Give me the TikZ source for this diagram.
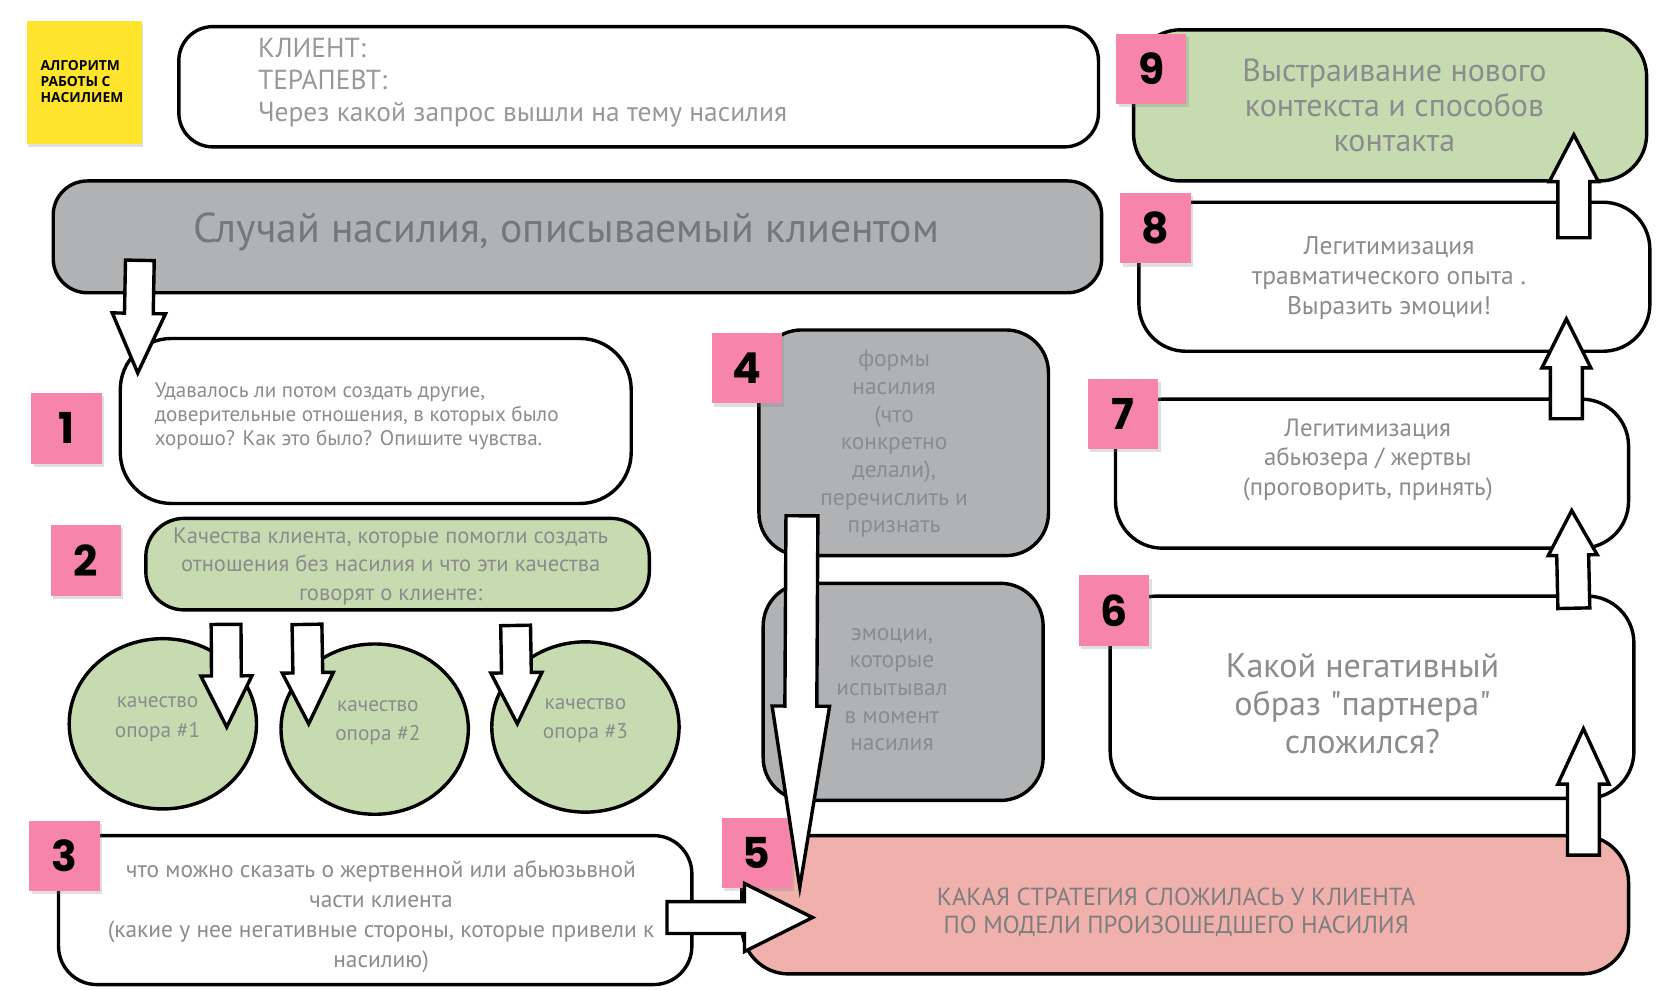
\documentclass[tikz,border=0pt]{standalone}
\usepackage{fontspec}
\setmainfont{PT Sans}
\newfontfamily\numf{Poppins}
\newfontfamily\headf{Open Sans}
\usetikzlibrary{calc,shadows,shapes.geometric}
\definecolor{pinkl}{RGB}{247,132,170}
\definecolor{greenf}{RGB}{198,219,176}
\definecolor{grayf}{RGB}{176,178,180}
\definecolor{salmonf}{RGB}{240,176,172}
\definecolor{yellf}{RGB}{255,228,46}
\definecolor{txtc}{RGB}{138,140,142}
\definecolor{txtl}{RGB}{150,152,155}
\newcommand\fs[2]{\fontsize{#1}{#2}\selectfont}
\newcommand\sq{\XeTeXglyph\XeTeXcharglyph"22\relax}
\newcommand\barrow[5]{%
  \path ($(#2)!#5!(#1)$) coordinate (hb);
  \draw[arrowst] ($(#1)!#3!90:(#2)$) -- ($(hb)!#3!90:(#2)$) -- ($(hb)!#4!90:(#2)$) -- (#2)
     -- ($(hb)!#4!-90:(#2)$) -- ($(hb)!#3!-90:(#2)$) -- ($(#1)!#3!-90:(#2)$) -- cycle;}
\tikzset{
  box/.style={draw=black, line width=1.6pt, rounded corners=#1, inner sep=0pt},
  box/.default=18pt,
  oval/.style={draw=black, line width=1.6pt, ellipse, fill=greenf, inner sep=0pt},
  txt/.style={text=txtc, align=center, inner sep=0pt},
  numlab/.style={fill=pinkl, minimum size=33pt, inner sep=0pt, text=black,
     font=\numf\bfseries\fs{20}{20},
     drop shadow={shadow xshift=1.2pt, shadow yshift=-1.5pt, opacity=0.25}},
  arrowst/.style={draw=black, fill=white, line width=1.6pt, line join=miter}
}
\begin{document}
\begin{tikzpicture}[x=0.5pt,y=-0.5pt]
\useasboundingbox (0,0) rectangle (1568,930);
\fill[white] (0,0) rectangle (1568,930);

% title square
\node[fill=yellf, minimum width=54pt, minimum height=57.5pt, inner sep=0pt,
   drop shadow={shadow xshift=0.8pt, shadow yshift=-1.5pt, opacity=0.25}] (yel) at (79,77.5) {};
\node[align=left, inner sep=0pt, font=\headf\bfseries\fs{6.5}{7.5}] (yelt) at (77,77)
   {АЛГОРИТМ\\РАБОТЫ С\\НАСИЛИЕМ};

% boxes
\node[box=16pt, fill=white, minimum width=432pt, minimum height=56.5pt] (top) at (600,81.5) {};
\node[txt, align=left, text=txtl, font=\fs{12.9}{15}, anchor=west] (toptxt) at (242,78)
   {КЛИЕНТ:\\ТЕРАПЕВТ:\\Через какой запрос вышли на тему насилия};

\node[box=16pt, fill=grayf, minimum width=492.5pt, minimum height=52.5pt] (grey) at (542.5,222.5) {};
\node[txt, text=txtc!85!black, font=\fs{19.6}{22}] (greyt) at (532,218) {Случай насилия, описываемый клиентом};

\node[box=24pt, fill=white, minimum width=240pt, minimum height=77.5pt] (b1) at (353,395.5) {};
\node[txt, align=left, font=\fs{9.9}{11.3}, anchor=west] (t1) at (145,391)
   {Удавалось ли потом создать другие,\\доверительные отношения, в которых было\\хорошо? Как это было? Опишите чувства.};

\node[box=18pt, fill=greenf, minimum width=236.5pt, minimum height=43pt] (b2) at (373.5,530) {};
\node[txt, font=\fs{10.6}{13.5}] (t2) at (367,532)
   {Качества клиента, которые помогли создать\\отношения без насилия и что эти качества\\говорят о клиенте:};

\node[oval, minimum width=88pt, minimum height=80pt] (c1) at (153,680) {};
\node[oval, minimum width=88pt, minimum height=80pt] (c2) at (352,685) {};
\node[oval, minimum width=88pt, minimum height=80pt] (c3) at (550,683) {};
\node[txt, font=\fs{10}{14}] (ct1) at (148,676) {качество\\опора \#1};
\node[txt, font=\fs{10}{14}] (ct2) at (355,679) {качество\\опора \#2};
\node[txt, font=\fs{10}{14}] (ct3) at (550,677) {качество\\опора \#3};

\node[box=18pt, fill=white, minimum width=297.5pt, minimum height=70pt] (b3) at (352.5,855) {};
\node[txt, font=\fs{11}{14}] (t3) at (358,861)
   {что можно сказать о жертвенной или абьюзьвной\\части клиента\\(какие у нее негативные стороны, которые привели к\\насилию)};

\node[box=20pt, fill=grayf, minimum width=136pt, minimum height=106pt] (b4a) at (849,416) {};
\node[txt, font=\fs{11}{13}] (t4a) at (840,417)
   {формы\\насилия\\(что\\конкретно\\делали),\\перечислить и\\признать};
\node[box=20pt, fill=grayf, minimum width=131.5pt, minimum height=102pt] (b4b) at (848.5,650) {};
\node[txt, font=\fs{11}{13}] (t4b) at (838,648)
   {эмоции,\\которые\\испытывал\\в момент\\насилия};

\node[box=22pt, fill=salmonf, minimum width=416.5pt, minimum height=65pt] (b5) at (1113.5,850) {};
\node[txt, text=txtc!90!black, font=\fs{11.6}{13.5}] (t5) at (1105,857)
   {КАКАЯ СТРАТЕГИЯ СЛОЖИЛАСЬ У КЛИЕНТА\\ПО МОДЕЛИ ПРОИЗОШЕДШЕГО НАСИЛИЯ};

\node[box=22pt, fill=white, minimum width=246pt, minimum height=95pt] (b6) at (1289,655) {};
\node[txt, font=\fs{16}{18}] (t6) at (1280,661) {Какой негативный\\образ \sq партнера\sq\\сложился?};

\node[box=22pt, fill=white, minimum width=241pt, minimum height=70pt] (b7) at (1289,445) {};
\node[txt, font=\fs{11.7}{14}] (t7) at (1285,432) {Легитимизация\\абьюзера / жертвы\\(проговорить, принять)};

\node[box=22pt, fill=white, minimum width=240pt, minimum height=70pt] (b8) at (1310,260) {};
\node[txt, font=\fs{12}{14}] (t8) at (1305,261) {Легитимизация\\травматического опыта .\\Выразить эмоции!};

\node[box=22pt, fill=greenf, minimum width=241pt, minimum height=71pt] (b9) at (1306,99) {};
\node[txt, font=\fs{15}{16.5}] (t9) at (1310,99) {Выстраивание нового\\контекста и способов\\контакта};

% number labels
\node[numlab] (n1) at (62.5,402.5) {1};
\node[numlab] (n2) at (80.5,526.5) {2};
\node[numlab] (n3) at (60.5,804) {3};
\node[numlab] (n4) at (701.5,346) {4};
\node[numlab] (n5) at (711,801.5) {5};
\node[numlab] (n6) at (1046.5,573.5) {6};
\node[numlab] (n7) at (1055,389) {7};
\node[numlab] (n8) at (1085.5,214.5) {8};
\node[numlab] (n9) at (1081.5,64.5) {9};

% arrow end points
\coordinate (a0s) at ($(grey.south west)+(83,-32)$);
\coordinate (a0t) at ($(b1.north west)+(18,34)$);
\coordinate (a1s) at ($(b2.south west)+(77,12)$);
\coordinate (a1t) at ($(c1.center)+(60,3)$);
\coordinate (a2s) at ($(b2.south west)+(153,12)$);
\coordinate (a2t) at ($(c2.center)+(-62,-5)$);
\coordinate (a3s) at ($(b2.south west)+(349,13)$);
\coordinate (a3t) at ($(c3.center)+(-64,-3)$);
\coordinate (a4s) at ($(b4a.south west)+(42,-39)$);
\coordinate (a4t) at ($(b5.north west)+(56,50)$);
\coordinate (a5s) at ($(b3.east)+(-25,7)$);
\coordinate (a5t) at ($(b5.west)+(68,12)$);
\coordinate (a6s) at ($(b5.north east)+(-44,20)$);
\coordinate (a6t) at ($(b6.south east)+(-49,-67)$);
\coordinate (a7s) at ($(b6.north east)+(-58,13)$);
\coordinate (a7t) at ($(b7.south east)+(-55,-37)$);
\coordinate (a8s) at ($(b7.north east)+(-60,20)$);
\coordinate (a8t) at ($(b8.south east)+(-80,-32)$);
\coordinate (a9s) at ($(b8.north east)+(-73,35)$);
\coordinate (a9t) at ($(b9.south east)+(-70,-45)$);

\barrow{a0s}{a0t}{6.75pt}{12.5pt}{28pt}
\barrow{a1s}{a1t}{7pt}{12pt}{24pt}
\barrow{a2s}{a2t}{7pt}{12pt}{24pt}
\barrow{a3s}{a3t}{7pt}{12pt}{24pt}
\barrow{a4s}{a4t}{7.5pt}{13.5pt}{85pt}
\barrow{a5s}{a5t}{7.5pt}{16pt}{32pt}
\barrow{a6s}{a6t}{7.5pt}{12pt}{26pt}
\barrow{a7s}{a7t}{7.5pt}{11.5pt}{21pt}
\barrow{a8s}{a8t}{7.5pt}{11.5pt}{23pt}
\barrow{a9s}{a9t}{7.5pt}{11.5pt}{22pt}
\end{tikzpicture}
\end{document}
